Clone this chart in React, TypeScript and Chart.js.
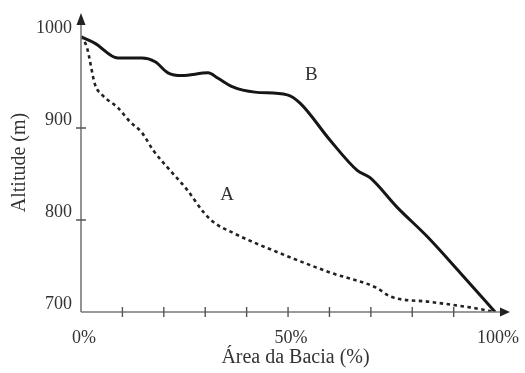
import React, { useEffect, useRef } from "react";
import { Chart, registerables } from "chart.js";

Chart.register(...registerables);

const seriesAX = [0, 1.4, 3.4, 5.1, 8.9, 11.8, 14.7, 17.4, 21.5, 25.6, 29.5, 31.9, 36.7, 48, 60.1, 71.5, 74.6, 84.3, 94, 100];
const seriesAY = [1000, 988, 947, 936, 922, 907, 895, 876, 854, 833, 809, 798, 786, 764, 743, 726, 717, 711, 705, 700];

const seriesBX = [0, 3.4, 8.9, 14.7, 17.9, 21, 24.4, 30.7, 33.1, 36.5, 42, 49.8, 52.9, 60.1, 66.7, 69.8, 76.3, 83.6, 91.5, 100];
const seriesBY = [999, 992, 976, 976, 972, 960, 957, 960, 954, 945, 939, 936, 927, 887, 854, 846, 814, 782, 743, 700];

const yTicks = [700, 800, 900, 1000];
const yTickMarks = [800, 900];
const xTicks = [0, 10, 20, 30, 40, 50, 60, 70, 80, 90, 100];
const xTickMarks = [10, 20, 30, 40, 50, 60, 70, 80, 90];
const xLabelTicks = [0, 50, 100];

const curveLabels = [
  { text: "A", x: 35.3, y: 827 },
  { text: "B", x: 55.6, y: 958 },
];

const FONT = "'Liberation Serif', 'DejaVu Serif', serif";
const AXIS = "#7a7a7a";
const TEXT = "#333333";

const decorPlugin = {
  id: "decor",
  afterDraw(chart: any) {
    const ctx = chart.ctx;
    const xs = chart.scales.x;
    const ys = chart.scales.y;
    const x0 = xs.getPixelForValue(0);
    const y0 = ys.getPixelForValue(700);
    const xEnd = xs.right;
    const yEnd = ys.top;
    ctx.save();
    ctx.strokeStyle = AXIS;
    ctx.lineWidth = 1.6;
    ctx.beginPath();
    ctx.moveTo(x0, y0);
    ctx.lineTo(xEnd - 6, y0);
    ctx.moveTo(x0, y0);
    ctx.lineTo(x0, yEnd + 8);
    ctx.stroke();
    ctx.lineWidth = 1.4;
    ctx.strokeStyle = "#555";
    ctx.beginPath();
    for (const v of xTickMarks) {
      const px = xs.getPixelForValue(v);
      ctx.moveTo(px, y0 - 5);
      ctx.lineTo(px, y0 + 5);
    }
    for (const v of yTickMarks) {
      const py = ys.getPixelForValue(v);
      ctx.moveTo(x0 - 5, py);
      ctx.lineTo(x0 + 5, py);
    }
    ctx.stroke();
    ctx.fillStyle = "#222";
    ctx.beginPath();
    ctx.moveTo(xEnd, y0);
    ctx.lineTo(xEnd - 10, y0 - 4.5);
    ctx.lineTo(xEnd - 10, y0 + 4.5);
    ctx.closePath();
    ctx.fill();
    ctx.beginPath();
    ctx.moveTo(x0, yEnd);
    ctx.lineTo(x0 - 4.5, yEnd + 12);
    ctx.lineTo(x0 + 4.5, yEnd + 12);
    ctx.closePath();
    ctx.fill();
    ctx.fillStyle = TEXT;
    ctx.font = "19px " + FONT;
    ctx.textAlign = "center";
    ctx.textBaseline = "middle";
    for (const l of curveLabels) {
      ctx.fillText(l.text, xs.getPixelForValue(l.x), ys.getPixelForValue(l.y));
    }
    ctx.restore();
  },
};

export default function App() {
  const ref = useRef<HTMLCanvasElement>(null);
  useEffect(() => {
    if (!ref.current) return;
    const chart = new Chart(ref.current, {
      type: "scatter",
      data: {
        datasets: [
          {
            label: "A",
            data: seriesAX.map((x, i) => ({ x, y: seriesAY[i] })),
            showLine: true,
            borderColor: "#222",
            borderWidth: 2.6,
            borderDash: [3.5, 3.5],
            pointRadius: 0,
            cubicInterpolationMode: "monotone",
          },
          {
            label: "B",
            data: seriesBX.map((x, i) => ({ x, y: seriesBY[i] })),
            showLine: true,
            borderColor: "#161616",
            borderWidth: 3,
            pointRadius: 0,
            cubicInterpolationMode: "monotone",
          },
        ],
      },
      options: {
        animation: false,
        responsive: false,
        maintainAspectRatio: false,
        layout: { padding: { left: 0, right: 15, top: 13, bottom: 0 } },
        plugins: { legend: { display: false }, tooltip: { enabled: false } },
        scales: {
          x: {
            type: "linear",
            min: 0,
            max: 103.6,
            border: { display: false },
            grid: { display: false, drawTicks: false },
            afterBuildTicks: (s: any) => {
              s.ticks = xTicks.map((v) => ({ value: v }));
            },
            afterFit: (s: any) => {
              s.height = 61;
              s.paddingLeft = 0;
              s.paddingRight = 0;
            },
            ticks: {
              autoSkip: false,
              maxRotation: 0,
              padding: 15,
              labelOffset: 3,
              color: TEXT,
              font: { family: FONT, size: 18 },
              callback: (v: any) => (xLabelTicks.includes(Number(v)) ? String(v) + "%" : ""),
            },
            title: {
              display: true,
              text: "Área da Bacia (%)",
              color: TEXT,
              font: { family: FONT, size: 20 },
              padding: { top: 0, bottom: 3 },
            },
          },
          y: {
            type: "linear",
            min: 700,
            max: 1025,
            border: { display: false },
            grid: { display: false, drawTicks: false },
            afterBuildTicks: (s: any) => {
              s.ticks = yTicks.map((v) => ({ value: v }));
            },
            afterFit: (s: any) => {
              s.width = 81;
              s.paddingTop = 0;
              s.paddingBottom = 0;
            },
            ticks: {
              autoSkip: false,
              padding: 9,
              labelOffset: -8,
              color: TEXT,
              font: { family: FONT, size: 18 },
              callback: (v: any) => String(v),
            },
            title: {
              display: true,
              text: "Altitude (m)",
              color: TEXT,
              font: { family: FONT, size: 20 },
              padding: { top: 8, bottom: 0 },
            },
          },
        },
      },
      plugins: [decorPlugin],
    } as any);
    return () => chart.destroy();
  }, []);
  return (
    <div style={{ position: "absolute", left: 0, top: 0, width: 525, height: 373, background: "#fff" }}>
      <canvas ref={ref} width={525} height={373} style={{ width: 525, height: 373 }} />
    </div>
  );
}
